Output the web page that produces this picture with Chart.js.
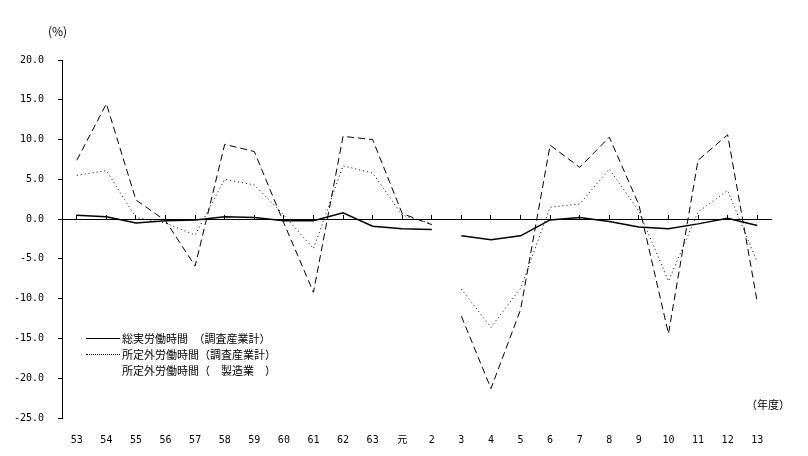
<!DOCTYPE html>
<html>
<head>
<meta charset="utf-8">
<script src="https://cdn.jsdelivr.net/npm/chart.js@4"></script>
<style>
  body { margin: 0; background: #fff; }
  .wrap { position: relative; width: 808px; height: 456px; font-family: "Noto Sans CJK JP", sans-serif; }
  canvas { position: absolute; left: 0; top: 0; }
  .unit { position: absolute; font-size: 12px; color: #000; }
  .legend { position: absolute; left: 86px; top: 330px; font-size: 11px; line-height: 16px; }
  .legend div { display: flex; align-items: center; height: 16px; }
  .legend span.s { display: inline-block; width: 34px; margin-right: 2px; }
</style>
</head>
<body>
<div class="wrap">
  <canvas id="c" width="808" height="456"></canvas>
  <div class="unit" style="left:48px; top:22px;">(%)</div>
  <div class="unit" style="left:746px; top:396px; font-size:11px;">（年度）</div>
  <div class="legend">
    <div><span class="s" style="border-top:1px solid #000;"></span>総実労働時間　（調査産業計）</div>
    <div><span class="s" style="border-top:1px dotted #000;"></span>所定外労働時間（調査産業計）</div>
    <div><span class="s"></span>所定外労働時間（　製造業　）</div>
  </div>
</div>
<script>
// 年度
var years = ["53", "54", "55", "56", "57", "58", "59", "60", "61", "62", "63", "元",
             "2", "3", "4", "5", "6", "7", "8", "9", "10", "11", "12", "13"];
// 総実労働時間（調査産業計）
var totalHours = [0.5, 0.3, -0.5, -0.2, -0.1, 0.3, 0.2, -0.2, -0.2, 0.8, -0.9, -1.2,
                  -1.3, -2.1, -2.6, -2.1, -0.1, 0.2, -0.3, -1.0, -1.2, -0.6, 0.1, -0.8];
// 所定外労働時間（調査産業計）
var overtimeAll = [5.5, 6.1, 0.2, -0.5, -2.0, 5.0, 4.3, 0.5, -3.7, 6.7, 5.8, 0.5,
                   -0.6, -8.8, -13.6, -8.7, 1.5, 1.9, 6.3, 1.0, -7.8, 0.9, 3.6, -5.4];
// 所定外労働時間（製造業）
var overtimeMfg = [7.4, 14.5, 2.4, -0.2, -5.9, 9.4, 8.5, -0.5, -9.2, 10.4, 10.0, 0.7,
                   -0.7, -12.2, -21.3, -11.4, 9.3, 6.5, 10.3, 1.8, -14.4, 7.4, 10.6, -10.4];
var yTicks = [20, 15, 10, 5, 0, -5, -10, -15, -20, -25];

// 2年度と3年度の間は線を切る
var gapIndex = 12;
var cut = { borderColor: (ctx) => ctx.p0DataIndex === gapIndex ? "rgba(0,0,0,0)" : undefined };

var tickFont = { family: "'DejaVu Sans Mono', 'Noto Sans CJK JP', monospace", size: 10 };

new Chart(document.getElementById("c").getContext("2d"), {
  type: "line",
  data: {
    labels: years,
    datasets: [{
      label: "総実労働時間（調査産業計）",
      data: totalHours,
      borderColor: "#000",
      borderWidth: 1.5,
      segment: cut
    }, {
      label: "所定外労働時間（調査産業計）",
      data: overtimeAll,
      borderColor: "#000",
      borderWidth: 1,
      borderDash: [1, 3],
      segment: cut
    }, {
      label: "所定外労働時間（製造業）",
      data: overtimeMfg,
      borderColor: "#000",
      borderWidth: 1,
      borderDash: [7, 4],
      segment: cut
    }]
  },
  options: {
    responsive: false,
    animation: false,
    layout: { padding: { top: 60, right: 36, left: 0, bottom: 0 } },
    elements: { point: { radius: 0 }, line: { tension: 0 } },
    plugins: { legend: { display: false }, tooltip: { enabled: false } },
    scales: {
      x: {
        offset: true,
        border: { display: false },
        grid: { display: false },
        ticks: { color: "#000", font: tickFont, maxRotation: 0, autoSkip: false, padding: 8 },
        afterFit: (s) => { s.height = 38; }
      },
      // 0%線上の目盛り（上向き）
      x0: {
        position: { y: 0 },
        labels: years,
        offset: true,
        border: { display: false },
        grid: { drawOnChartArea: false, tickLength: -4, color: "#000" },
        ticks: { display: false }
      },
      y: {
        min: -25,
        max: 20,
        afterBuildTicks: (s) => { s.ticks = yTicks.map((v) => ({ value: v })); },
        border: { display: true, color: "#000" },
        grid: {
          color: (ctx) => ctx.tick && ctx.tick.value === 0 ? "#000" : "rgba(0,0,0,0)",
          tickColor: "#000",
          tickLength: 4
        },
        ticks: { color: "#000", font: tickFont, padding: 14, callback: (v) => v.toFixed(1) },
        afterFit: (s) => { s.width = 62; }
      }
    }
  }
});
</script>
</body>
</html>
